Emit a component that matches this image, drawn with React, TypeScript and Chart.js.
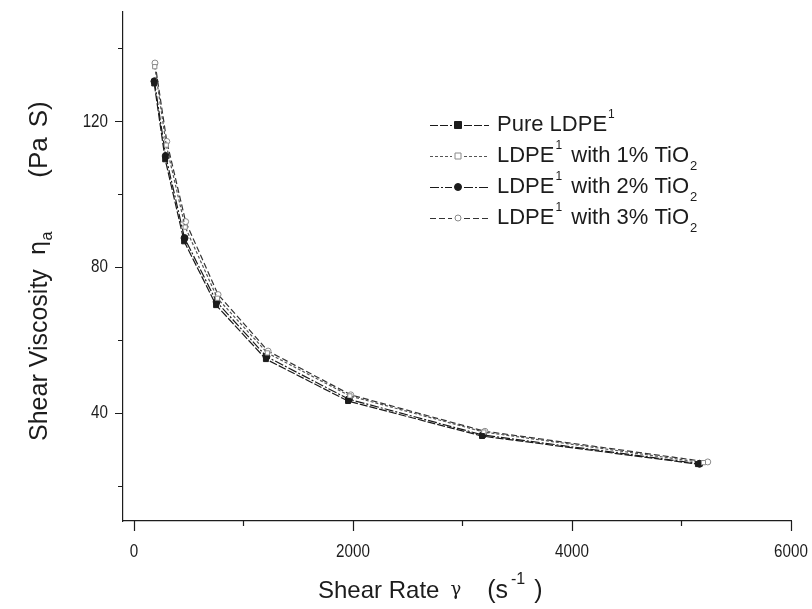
import React, { useEffect, useRef } from "react";
import { Chart, registerables } from "chart.js";

Chart.register(...registerables);

const shearRatePure = [185, 285, 458, 750, 1205, 1955, 3178, 5150];
const shearRate1 = [190, 295, 468, 762, 1218, 1972, 3195, 5200];
const shearRate2 = [187, 290, 462, 755, 1210, 1962, 3185, 5165];
const shearRate3 = [192, 300, 472, 768, 1225, 1980, 3205, 5240];

const viscPure = [130.4, 109.6, 87.1, 69.6, 54.8, 43.3, 33.7, 26.0];
const visc1 = [135, 113.5, 91, 71.5, 56.5, 44.7, 34.8, 26.4];
const visc2 = [131, 110.5, 88, 70.5, 55.5, 43.8, 34, 26.1];
const visc3 = [136, 114.5, 92.5, 72.5, 57, 45, 35, 26.6];

const xTickValues = [0, 2000, 4000, 6000];
const xMinorTicks = [1000, 3000, 5000];
const yTickValues = [40, 80, 120];
const yMinorTicks = [20, 60, 100, 140];

const seriesNames = ["Pure LDPE", "LDPE with 1% TiO", "LDPE with 2% TiO", "LDPE with 3% TiO"];

const INK = "#1c1c1c";
const TFONT = "'Liberation Sans', Arial, sans-serif";

function toPoints(xs: number[], ys: number[]) {
  return xs.map((x, i) => ({ x, y: ys[i] }));
}

const styles = [
  { pointStyle: "rect", fill: INK, stroke: INK, dash: [8, 2], line: "#1a1a1a", r: 3.5 },
  { pointStyle: "rect", fill: "#ffffff", stroke: "#8a8a8a", dash: [3, 2], line: "#555", r: 3 },
  { pointStyle: "circle", fill: INK, stroke: INK, dash: [9, 2, 2, 2], line: "#1a1a1a", r: 3.5 },
  { pointStyle: "circle", fill: "#ffffff", stroke: "#8a8a8a", dash: [6, 3], line: "#333", r: 3 },
];

function condensedText(ctx: CanvasRenderingContext2D, text: string, cx: number, cy: number, align: "center" | "right") {
  const k = 0.8;
  ctx.save();
  ctx.translate(cx, cy);
  ctx.scale(k, 1);
  ctx.textAlign = align;
  ctx.fillText(text, 0, 0);
  ctx.restore();
}

const decorPlugin = {
  id: "decor",
  afterDraw(chart: any) {
    const ctx = chart.ctx as CanvasRenderingContext2D;
    const xs = chart.scales.x;
    const ys = chart.scales.y;
    const area = chart.chartArea;
    ctx.save();
    ctx.strokeStyle = INK;
    ctx.lineWidth = 1.2;
    ctx.beginPath();
    yTickValues.forEach((v) => {
      const p = Math.round(ys.getPixelForValue(v)) + 0.5;
      ctx.moveTo(area.left - 8, p);
      ctx.lineTo(area.left, p);
    });
    yMinorTicks.forEach((v) => {
      const p = Math.round(ys.getPixelForValue(v)) + 0.5;
      ctx.moveTo(area.left - 5, p);
      ctx.lineTo(area.left, p);
    });
    xTickValues.forEach((v) => {
      const p = Math.round(xs.getPixelForValue(v)) + 0.5;
      ctx.moveTo(p, area.bottom);
      ctx.lineTo(p, area.bottom + 10);
    });
    xMinorTicks.forEach((v) => {
      const p = Math.round(xs.getPixelForValue(v)) + 0.5;
      ctx.moveTo(p, area.bottom);
      ctx.lineTo(p, area.bottom + 5);
    });
    ctx.stroke();

    // tick labels (condensed face, as in the original)
    ctx.fillStyle = INK;
    ctx.font = `19px ${TFONT}`;
    ctx.textBaseline = "middle";
    yTickValues.forEach((v) => {
      condensedText(ctx, String(v), area.left - 15, ys.getPixelForValue(v), "right");
    });
    xTickValues.forEach((v) => {
      condensedText(ctx, String(v), xs.getPixelForValue(v), area.bottom + 31, "center");
    });

    // legend
    const lx0 = 430;
    const lx1 = 489;
    const mx = 458;
    const tx = 497;
    const rowY = [125, 156, 187, 218];
    const fs = 22;
    ctx.textAlign = "left";
    ctx.textBaseline = "middle";
    styles.forEach((s, i) => {
      const y = rowY[i];
      ctx.save();
      ctx.strokeStyle = s.line;
      ctx.lineWidth = 1;
      ctx.setLineDash(s.dash);
      ctx.beginPath();
      ctx.moveTo(lx0, y + 0.5);
      ctx.lineTo(mx - 6, y + 0.5);
      ctx.moveTo(mx + 6, y + 0.5);
      ctx.lineTo(lx1, y + 0.5);
      ctx.stroke();
      ctx.setLineDash([]);
      ctx.fillStyle = s.fill;
      ctx.strokeStyle = s.stroke;
      ctx.beginPath();
      if (s.pointStyle === "rect") {
        ctx.rect(mx - s.r, y - s.r, s.r * 2, s.r * 2);
      } else {
        ctx.arc(mx, y, s.r, 0, Math.PI * 2);
      }
      ctx.fill();
      ctx.stroke();
      ctx.restore();

      ctx.fillStyle = INK;
      let x = tx;
      ctx.font = `${fs}px ${TFONT}`;
      if (i === 0) {
        ctx.fillText("Pure LDPE", x, y);
        x += ctx.measureText("Pure LDPE").width + 1;
        ctx.font = `12px ${TFONT}`;
        ctx.fillText("1", x, y - 10);
      } else {
        ctx.fillText("LDPE", x, y);
        x += ctx.measureText("LDPE").width + 1;
        ctx.font = `12px ${TFONT}`;
        ctx.fillText("1", x, y - 10);
        x += ctx.measureText("1").width + 3;
        ctx.font = `${fs}px ${TFONT}`;
        const rest = seriesNames[i].slice(4);
        ctx.fillText(rest, x, y);
        x += ctx.measureText(rest).width + 1;
        ctx.font = `13px ${TFONT}`;
        ctx.fillText("2", x, y + 10);
      }
    });

    // x axis title
    ctx.fillStyle = INK;
    ctx.textBaseline = "alphabetic";
    const xtY = 598;
    let x = 318;
    ctx.font = `24px ${TFONT}`;
    ctx.fillText("Shear Rate", x, xtY);
    x += ctx.measureText("Shear Rate").width + 11;
    ctx.font = `18px 'DejaVu Serif', serif`;
    ctx.fillText("γ", x, xtY - 3);
    x += ctx.measureText("γ").width + 26;
    ctx.font = `25px ${TFONT}`;
    ctx.fillText("(s", x, xtY);
    x += ctx.measureText("(s").width + 3;
    ctx.font = `16px ${TFONT}`;
    ctx.fillText("-1", x, xtY - 14);
    x += ctx.measureText("-1").width + 9;
    ctx.font = `25px ${TFONT}`;
    ctx.fillText(")", x, xtY);

    // y axis title (rotated)
    ctx.save();
    ctx.translate(47, 441);
    ctx.rotate(-Math.PI / 2);
    let y = 0;
    ctx.font = `25px ${TFONT}`;
    ctx.fillText("Shear Viscosity", y, 0);
    y += ctx.measureText("Shear Viscosity").width + 14;
    ctx.font = `23px 'DejaVu Sans', sans-serif`;
    ctx.fillText("η", y, -2);
    y += ctx.measureText("η").width;
    ctx.font = `16px ${TFONT}`;
    ctx.fillText("a", y, 5);
    y += ctx.measureText("a").width + 54;
    ctx.font = `26px ${TFONT}`;
    ctx.fillText("(Pa", y, 0);
    y += ctx.measureText("(Pa").width + 10;
    ctx.fillText("S)", y, 0);
    ctx.restore();

    ctx.restore();
  },
};

export default function App() {
  const ref = useRef<HTMLCanvasElement | null>(null);
  useEffect(() => {
    document.body.style.margin = "0";
    const canvas = ref.current!;
    const allX = [shearRatePure, shearRate1, shearRate2, shearRate3];
    const allY = [viscPure, visc1, visc2, visc3];
    const chart = new Chart(canvas, {
      type: "line",
      data: {
        datasets: styles.map((s, i) => ({
          label: seriesNames[i],
          data: toPoints(allX[i], allY[i]),
          borderColor: s.line,
          borderWidth: 1.2,
          borderDash: s.dash,
          pointStyle: s.pointStyle as any,
          pointRadius: s.r,
          pointBackgroundColor: s.fill,
          pointBorderColor: s.stroke,
          pointBorderWidth: 1,
          tension: 0,
          fill: false,
        })),
      },
      options: {
        responsive: false,
        animation: false,
        layout: { padding: { left: 0, top: 12, right: 21, bottom: 0 } },
        plugins: { legend: { display: false }, tooltip: { enabled: false } },
        scales: {
          x: {
            type: "linear",
            min: -100,
            max: 6000,
            grid: { display: false },
            border: { display: true, color: INK, width: 1.2 },
            afterBuildTicks: (scale: any) => {
              scale.ticks = xTickValues.map((v) => ({ value: v }));
            },
            afterFit: (scale: any) => {
              scale.height = 88;
              scale.paddingLeft = 0;
              scale.paddingRight = 0;
            },
            ticks: { display: false },
          },
          y: {
            type: "linear",
            min: 10.4,
            max: 150,
            grid: { display: false },
            border: { display: true, color: INK, width: 1.2 },
            afterBuildTicks: (scale: any) => {
              scale.ticks = yTickValues.map((v) => ({ value: v }));
            },
            afterFit: (scale: any) => {
              scale.width = 123;
              scale.paddingTop = 0;
              scale.paddingBottom = 0;
            },
            ticks: { display: false },
          },
        },
      },
      plugins: [decorPlugin],
    });
    return () => chart.destroy();
  }, []);
  return (
    <div style={{ width: 812, height: 609, background: "#fff" }}>
      <canvas ref={ref} width={812} height={609} />
    </div>
  );
}
